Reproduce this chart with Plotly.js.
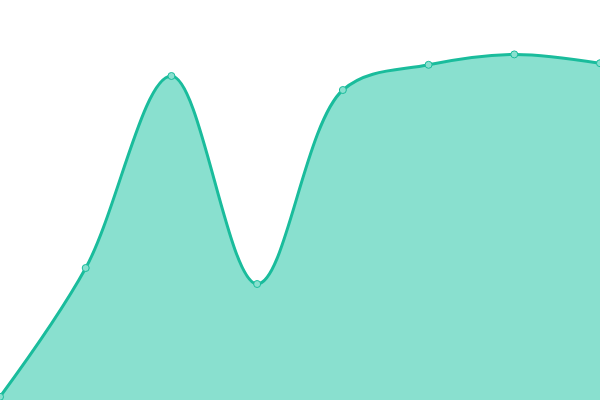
<!DOCTYPE html>
<html>
<head>
<meta charset="utf-8">
<script src="https://cdn.plot.ly/plotly-3.0.1.min.js"></script>
<style>
  html, body { margin: 0; padding: 0; background: #ffffff; }
  #chart { width: 600px; height: 400px; }
</style>
</head>
<body>
<div id="chart"></div>
<script>
// Valores
const categorias = [0, 1, 2, 3, 4, 5, 6, 7];
const valores = [0.8, 33, 81, 29, 77.5, 83.8, 86.4, 84.2];

const COLOR_LINEA = "#1abc9c";
const COLOR_RELLENO = "#89e0cf";

const trazaArea = {
  type: "scatter",
  mode: "lines+markers",
  x: categorias,
  y: valores,
  fill: "tozeroy",
  fillcolor: COLOR_RELLENO,
  line: { color: COLOR_LINEA, width: 3, shape: "spline", smoothing: 1 },
  marker: {
    size: 7,
    color: COLOR_RELLENO,
    line: { color: COLOR_LINEA, width: 1 }
  },
  hoverinfo: "none"
};

const layout = {
  width: 600,
  height: 400,
  margin: { l: 0, r: 0, t: 0, b: 0 },
  paper_bgcolor: "#ffffff",
  plot_bgcolor: "#ffffff",
  showlegend: false,
  xaxis: { range: [0, 7], visible: false, fixedrange: true },
  yaxis: { range: [0, 100], visible: false, fixedrange: true }
};

Plotly.newPlot("chart", [trazaArea], layout, { displayModeBar: false, staticPlot: true });
</script>
</body>
</html>
